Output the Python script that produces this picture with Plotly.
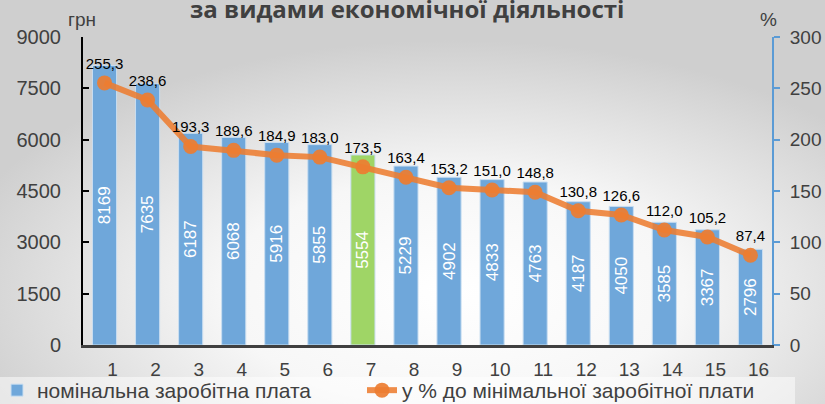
import plotly.graph_objects as go

categories = [str(i) for i in range(1, 17)]
wages = [8169, 7635, 6187, 6068, 5916, 5855, 5554, 5229, 4902, 4833, 4763, 4187, 4050, 3585, 3367, 2796]
pct_min = [255.3, 238.6, 193.3, 189.6, 184.9, 183.0, 173.5, 163.4, 153.2, 151.0, 148.8, 130.8, 126.6, 112.0, 105.2, 87.4]
highlight = "7"

title_text = "за видами економічної діяльності"
bar_name = "номінальна заробітна плата"
line_name = "у % до мінімальної заробітної плати"

bar_colors = ["#9fd566" if c == highlight else "#6fa7da" for c in categories]
pct_labels = [f"{v:.1f}".replace(".", ",") for v in pct_min]

W, H = 825, 404
ml, mr, mt, mb = 83, 53, 37, 59
pw, ph = W - ml - mr, H - mt - mb


def px_x(p):
    return (p - ml) / pw


def px_y(p):
    return (H - mb - p) / ph


bg_svg = (
    "data:image/svg+xml;utf8,"
    "<svg xmlns='http://www.w3.org/2000/svg' width='825' height='404'>"
    "<defs><radialGradient id='g' cx='0.55' cy='0.72' r='0.62'>"
    "<stop offset='0' stop-color='%23ffffff'/><stop offset='0.45' stop-color='%23f7f7f7'/>"
    "<stop offset='1' stop-color='%23cfcfcf'/></radialGradient></defs>"
    "<rect width='825' height='404' fill='url(%23g)'/></svg>"
)

fig = go.Figure()
fig.add_trace(go.Bar(
    x=categories, y=wages, name=bar_name, legend="legend",
    marker=dict(color=bar_colors, line=dict(color="#c9def1", width=1)),
    text=[str(v) for v in wages], textposition="inside", insidetextanchor="middle",
    textangle=-90, constraintext="none",
    textfont=dict(color="white", size=17, family="Liberation Sans"),
    cliponaxis=False,
))
fig.add_trace(go.Scatter(
    x=categories, y=pct_min, name=line_name, yaxis="y2", legend="legend2",
    mode="lines+markers+text",
    line=dict(color="rgba(237,125,49,0.88)", width=6),
    marker=dict(color="rgba(237,125,49,0.92)", size=15),
    text=pct_labels, textposition="top center",
    textfont=dict(color="black", size=15, family="Liberation Sans"),
    cliponaxis=False,
))

legend_common = dict(orientation="h", xanchor="left", yanchor="top",
                     bgcolor="rgba(0,0,0,0)", font=dict(size=21, color="#404040"),
                     itemwidth=30)

fig.update_layout(
    width=W, height=H,
    margin=dict(l=ml, r=mr, t=mt, b=mb, autoexpand=False),
    paper_bgcolor="#e8e8e8", plot_bgcolor="rgba(0,0,0,0)",
    font=dict(family="Liberation Sans", color="#404040"),
    bargap=0.44,
    images=[dict(source=bg_svg, xref="paper", yref="paper",
                 x=-ml / pw, y=1 + mt / ph, sizex=W / pw, sizey=H / ph,
                 xanchor="left", yanchor="top", sizing="stretch", layer="below")],
    shapes=[dict(type="rect", xref="paper", yref="paper", layer="below",
                 x0=px_x(0), x1=px_x(795), y0=px_y(404), y1=px_y(377),
                 fillcolor="rgba(255,255,255,0.5)", line=dict(width=0))],
    xaxis=dict(range=[-0.5, 15.5], showgrid=False, showline=True, linecolor="#404040",
               linewidth=3, ticks="", tickfont=dict(size=19, color="#404040"),
               automargin=False, ticklabelstandoff=5, ticklabelshift=8, zeroline=False),
    yaxis=dict(range=[0, 9000], dtick=1500, showgrid=False, showline=True,
               linecolor="black", linewidth=2, ticks="inside", ticklen=6,
               tickcolor="black", tickwidth=2, automargin=False,
               tickfont=dict(size=20, color="#404040"), ticklabelstandoff=16,
               zeroline=False),
    yaxis2=dict(range=[0, 300], dtick=50, overlaying="y", side="right",
                showgrid=False, showline=True, linecolor="#5b9bd5", linewidth=2,
                ticks="outside", ticklen=6, tickcolor="#5b9bd5", tickwidth=2,
                automargin=False,
                tickfont=dict(size=19, color="#404040"), ticklabelstandoff=6,
                zeroline=False),
    legend=dict(x=px_x(-3), y=px_y(370), **legend_common),
    legend2=dict(x=px_x(362), y=px_y(370), **legend_common),
    showlegend=True,
    annotations=[
        dict(text="<b>" + title_text + "</b>", xref="paper", yref="paper",
             x=px_x(407), y=px_y(8), xanchor="center", yanchor="middle",
             showarrow=False, font=dict(family="Open Sans", size=24, color="#404040")),
        dict(text="грн", xref="paper", yref="paper", x=px_x(82), y=px_y(20),
             xanchor="center", yanchor="middle", showarrow=False,
             font=dict(size=19, color="#404040")),
        dict(text="%", xref="paper", yref="paper", x=px_x(768), y=px_y(20),
             xanchor="center", yanchor="middle", showarrow=False,
             font=dict(size=19, color="#404040")),
    ],
)

fig.write_html("out.html", config={"displayModeBar": False},
               post_script="document.body.style.margin='0';document.body.style.overflow='hidden';")
